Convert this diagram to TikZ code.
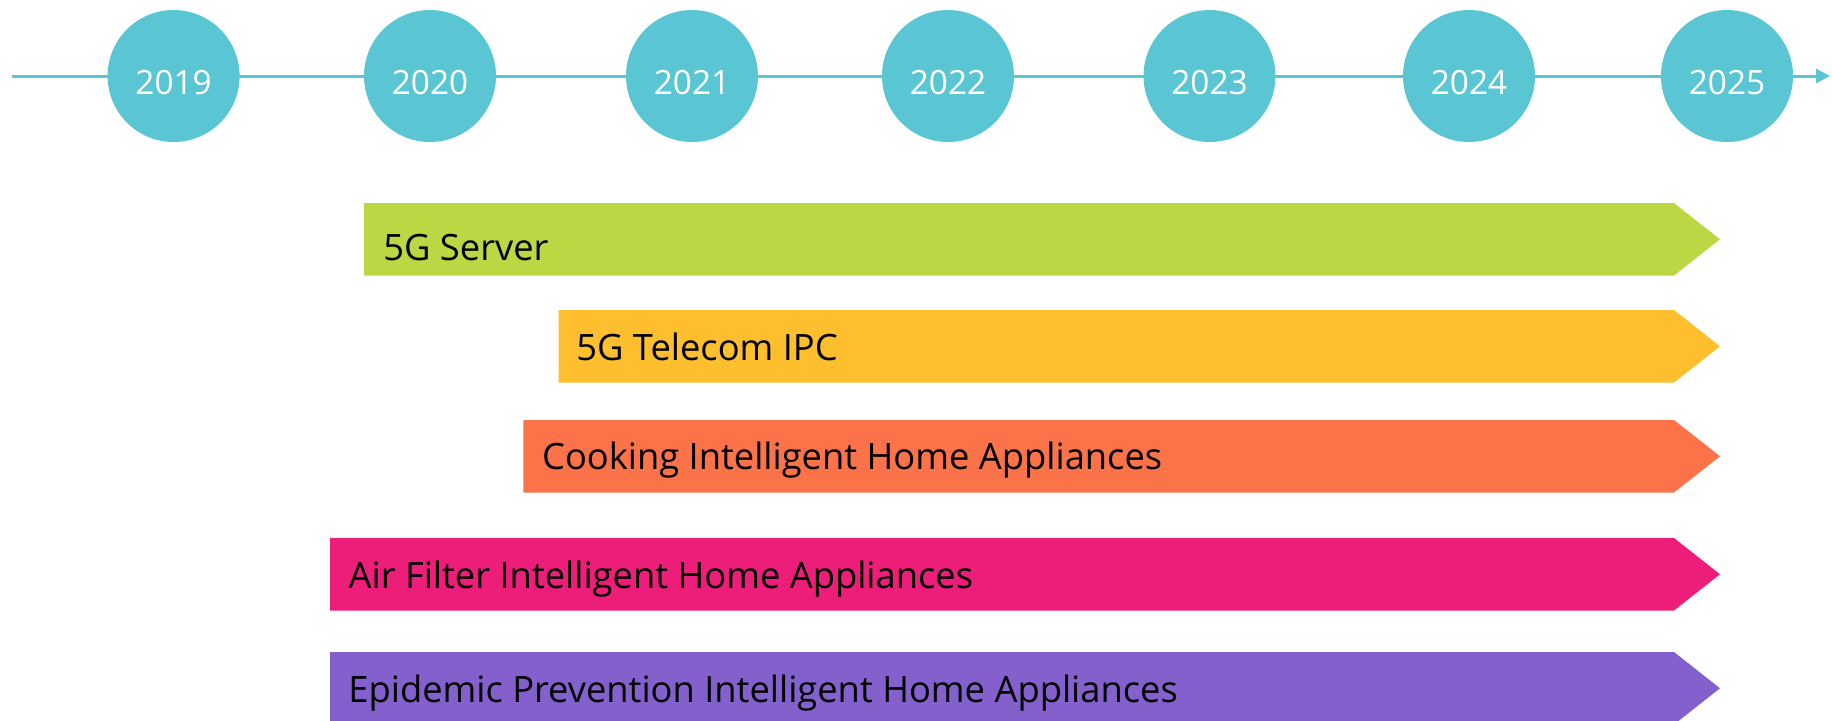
\documentclass[tikz,border=0pt]{standalone}
\usepackage{fontspec}
\setmainfont{Open Sans}
\usetikzlibrary{arrows.meta}
\definecolor{tlc}{RGB}{91,198,211}
\definecolor{cgreen}{RGB}{188,215,68}
\definecolor{cyellow}{RGB}{253,191,45}
\definecolor{corange}{RGB}{252,115,74}
\definecolor{cpink}{RGB}{237,30,121}
\definecolor{cpurple}{RGB}{132,96,205}
\begin{document}
\begin{tikzpicture}[x=0.5pt,y=-0.5pt,
  yearnode/.style={circle,fill=tlc,minimum size=66pt,inner sep=0pt,text=white,
    text height=18.5pt,text depth=0pt,font=\fontsize{16.7}{20}\selectfont},
  barlabel/.style={anchor=base west,inner sep=0pt,text=black,font=\fontsize{18.15}{22}\selectfont},
  timeline/.style={draw=tlc,line width=1.5pt,-{Triangle[length=7pt,width=7pt]}}]
\useasboundingbox (0,0) rectangle (1832,720);
\clip (0,0) rectangle (1832,720);
% timeline
\coordinate (tstart) at (12,76);
\coordinate (tend) at (1830,76);
\draw[timeline] (tstart) -- (tend);
\node[yearnode] (y2019) at (173.6,76) {2019};
\node[yearnode] (y2020) at (430,76) {2020};
\node[yearnode] (y2021) at (692,76) {2021};
\node[yearnode] (y2022) at (948,76) {2022};
\node[yearnode] (y2023) at (1209.5,76) {2023};
\node[yearnode] (y2024) at (1469,76) {2024};
\node[yearnode] (y2025) at (1727,76) {2025};
% bars
\fill[cgreen] (364,203) -- (1674,203) -- (1720,239.25) -- (1674,275.5) -- (364,275.5) -- cycle;
\node[barlabel] (lbl1) at (383,260.7) {5G Server};
\fill[cyellow] (558.5,310) -- (1674,310) -- (1720,346.25) -- (1674,382.5) -- (558.5,382.5) -- cycle;
\node[barlabel] (lbl2) at (576,360) {5G Telecom IPC};
\fill[corange] (523.3,420) -- (1674,420) -- (1720,456.25) -- (1674,492.5) -- (523.3,492.5) -- cycle;
\node[barlabel] (lbl3) at (541.7,469.5) {Cooking Intelligent Home Appliances};
\fill[cpink] (330,538) -- (1674,538) -- (1720,574.25) -- (1674,610.5) -- (330,610.5) -- cycle;
\node[barlabel] (lbl4) at (348.3,588.3) {Air Filter Intelligent Home Appliances};
\fill[cpurple] (330,652) -- (1674,652) -- (1720,688.25) -- (1674,724.5) -- (330,724.5) -- cycle;
\node[barlabel] (lbl5) at (348,702.5) {Epidemic Prevention Intelligent Home Appliances};
\end{tikzpicture}
\end{document}
